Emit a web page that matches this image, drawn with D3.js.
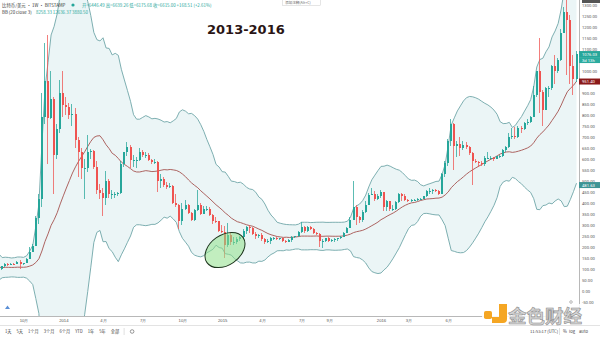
<!DOCTYPE html>
<html><head><meta charset="utf-8">
<script src="https://cdn.jsdelivr.net/npm/d3@7"></script>
<style>
html,body{margin:0;padding:0;background:#fff;overflow:hidden}
svg{display:block;font-family:"Noto Sans CJK SC","Noto Sans",sans-serif}
</style></head><body>
<svg id="c" width="600" height="337"></svg>
<script>
// ---------- DATA (weekly BTC/USD, Bitstamp) ----------
const firstWeek = "2013-03-25";
const firstOpen = 71;
const closes = [
 94,162,90,125,134,115,117,122,133,122,100,101,108,88,76,98,91,95,104,104,
 99,114,125,119,125,123,132,122,127,147,180,204,330,420,790,955,785,870,620,735,900,
 845,835,800,805,685,630,560,560,630,635,565,460,445,425,500,440,440,440,445,575,630,
 655,595,595,595,630,620,620,595,585,585,500,510,480,475,478,400,390,320,375,390,355,
 325,370,390,350,375,375,345,320,318,275,
 270,210,255,225,225,235,245,275,290,285,260,250,255,235,225,230,240,240,235,240,230,
 225,232,245,250,270,290,275,290,280,265,260,230,230,240,230,232,235,240,245,265,285,
 325,380,335,325,360,390,435,440,420,430,
 448,380,410,375,375,405,440,430,415,410,415,415,420,420,430,455,455,460,455,440,530,
 580,680,760,660,670,650,665,655,625,590,585,580,575,605,605,606,600,612,615,640,655,
 700,705,700,740,735,765,770,790,890,998,
 905,820,920,920,1020,1000,1050,1170,1268,1230,1020,965,1076
];
const highs = [
 98,165,266,145,145,148,118,124,134,135,124,112,112,110,90,100,100,98,110,108,
 110,115,127,128,128,128,136,140,128,150,200,215,340,440,900,1125,1163,1000,880,760,960,
 1000,880,855,850,830,700,650,600,708,645,640,590,485,470,545,510,460,450,450,590,630,
 675,665,620,610,650,640,630,625,600,600,590,530,520,495,490,480,440,395,400,415,395,
 360,375,460,400,385,385,380,350,335,320,
 300,295,310,270,245,245,250,280,295,300,290,270,260,262,240,238,245,248,245,242,241,
 232,235,252,252,273,315,295,295,298,285,270,265,235,240,245,235,240,242,250,270,290,
 335,500,390,340,370,410,445,470,455,440,
 460,450,415,400,390,410,445,445,440,418,420,420,425,425,432,460,470,465,465,460,535,
 590,690,780,765,680,700,680,678,660,630,600,590,590,615,630,612,610,615,620,645,660,
 720,740,745,750,750,770,780,795,930,1000,
 1150,915,925,930,1025,1070,1060,1190,1290,1330,1255,1070,1090
];
const lows = [
 70,93,68,68,118,82,106,105,120,115,98,97,98,86,66,66,88,87,95,98,
 95,98,112,115,118,120,122,100,120,127,147,177,204,305,380,760,576,780,440,600,720,
 790,800,780,750,650,520,510,420,540,600,555,440,420,340,390,425,420,425,430,440,565,
 615,560,565,560,590,610,605,590,575,575,450,470,475,465,470,395,380,280,300,370,350,
 320,320,365,345,350,365,340,305,310,270,
 265,152,200,210,210,215,230,235,260,265,255,235,240,230,215,218,215,232,232,232,225,
 220,222,225,240,245,265,265,270,278,258,255,200,198,225,225,225,225,230,235,245,265,
 285,325,300,310,315,355,390,435,410,415,
 425,365,365,365,365,368,400,410,408,405,405,408,410,415,418,428,440,440,450,435,440,
 520,570,660,550,610,615,640,645,620,480,580,565,570,570,600,600,590,600,605,610,630,
 650,690,690,695,720,730,755,765,790,880,
 810,750,820,880,915,940,990,1045,1170,980,940,890,950
];
const bbLength = 20, bbMult = 3;

const xTickDates  = ["2013-10-07","2014-01-06","2014-04-07","2014-07-07","2014-10-06","2015-01-05",
                     "2015-04-06","2015-07-06","2015-09-07","2016-01-04","2016-03-07","2016-06-06"];
const xTickLabels = ["10月","2014","4月","7月","10月","2015","4月","7月","9月","2016","3月","6月"];
const yTickValues = [-50,0,50,100,150,200,250,300,350,400,450,500,550,600,650,700,750,800,850,
                     900,950,1000,1050,1100,1150,1200,1250,1300];
const priceTagValues = [1076.03, 951.40, 481.63];
const priceTagLabels = ["1076.03", "951.40", "481.63"];
const countdownLabel = "3d 13h";

const titleText = "2013-2016";
const headerSymbol = "比特币/美元 · 1W · BITSTAMP";
const headerOHLC = "开=6446.49  高=6639.26  低=6175.68  收=6615.00  +168.51 (+2.61%)";
const headerBB = "BB (20 close 3)";
const headerBBValues = "8258.33  12636.37  3880.50";
const toolbarLeft = ["1天","5天","1个月","3个月","6个月","YTD","1年","5年","全部"];
const toolbarRight = ["11:53:17 (UTC)","%","log","auto"];

// ---------- BUILD ----------
const W = 600, H = 337, plotR = 579, plotB = 316;
const svg = d3.select("#c");
const parse = d3.utcParse("%Y-%m-%d");
const start = parse(firstWeek);
const bars = closes.map((c, i) => ({
  date: d3.utcDay.offset(start, 7 * i),
  open: i === 0 ? firstOpen : closes[i - 1],
  close: c, high: highs[i], low: lows[i]
}));

const bb = [];
for (let i = bbLength - 1; i < bars.length; i++) {
  const w = closes.slice(i - bbLength + 1, i + 1);
  const m = d3.mean(w);
  const sd = Math.sqrt(d3.mean(w, v => (v - m) * (v - m)));
  bb.push({date: bars[i].date, mid: m, up: m + bbMult * sd, lo: m - bbMult * sd});
}

const x = d3.scaleUtc().domain([parse("2016-01-04"), parse("2017-03-27")]).range([381, 576.5]);
const y = d3.scaleLinear().domain([0, 1300]).range([291.2, 4.7]);

svg.append("rect").attr("width", W).attr("height", H).attr("fill", "#fff");
svg.append("clipPath").attr("id", "clip").append("rect")
  .attr("x", 0).attr("y", 0).attr("width", plotR).attr("height", plotB);
const plot = svg.append("g").attr("clip-path", "url(#clip)");

// Bollinger bands
plot.append("path").datum(bb)
  .attr("d", d3.area().x(d => x(d.date)).y0(d => y(d.lo)).y1(d => y(d.up)))
  .attr("fill", "#ebf5f6");
["up", "lo"].forEach(k => plot.append("path").datum(bb)
  .attr("d", d3.line().x(d => x(d.date)).y(d => y(d[k])))
  .attr("fill", "none").attr("stroke", "#6fa6a8").attr("stroke-width", 0.9));
plot.append("path").datum(bb)
  .attr("d", d3.line().x(d => x(d.date)).y(d => y(d.mid)))
  .attr("fill", "none").attr("stroke", "#a5524f").attr("stroke-width", 0.9);

// Candles
const up = "#26a69a", dn = "#ef5350";
const cg = plot.append("g").attr("shape-rendering", "crispEdges");
cg.selectAll("rect.w").data(bars).join("rect").attr("class", "w")
  .attr("x", d => Math.round(x(d.date)) - 1).attr("width", 1)
  .attr("y", d => y(d.high)).attr("height", d => Math.max(1, y(d.low) - y(d.high)))
  .attr("fill", d => d.close >= d.open ? up : dn).attr("opacity", 0.75);
cg.selectAll("rect.b").data(bars).join("rect").attr("class", "b")
  .attr("x", d => Math.round(x(d.date)) - 1).attr("width", 2)
  .attr("y", d => y(Math.max(d.open, d.close)))
  .attr("height", d => Math.max(1, Math.abs(y(d.open) - y(d.close))))
  .attr("fill", d => d.close >= d.open ? up : dn);

// Highlight ellipse
svg.append("ellipse").attr("cx", 225).attr("cy", 250).attr("rx", 22).attr("ry", 15)
  .attr("transform", "rotate(-35 225 250)")
  .attr("fill", "#8fe08a").attr("fill-opacity", 0.55)
  .attr("stroke", "#1d351d").attr("stroke-width", 1);

// Title
svg.append("text").attr("x", 207).attr("y", 34).text(titleText)
  .attr("font-family", "DejaVu Sans").attr("font-weight", "bold").attr("font-size", 13)
  .attr("fill", "#2a1515");

// Header
const hdr = svg.append("g").attr("font-size", 4.4).attr("font-family", "'Noto Sans CJK SC', sans-serif");
hdr.append("text").attr("x", 2).attr("y", 6.5).attr("fill", "#333").text(headerSymbol);
hdr.append("circle").attr("cx", 73).attr("cy", 5).attr("r", 1.6).attr("fill", "#26a69a");
hdr.append("text").attr("x", 82).attr("y", 6.5).attr("fill", "#26a69a").text(headerOHLC);
hdr.append("text").attr("x", 2).attr("y", 14).attr("fill", "#333").text(headerBB);
hdr.append("text").attr("x", 36).attr("y", 14).attr("fill", "#26a69a").text(headerBBValues);
svg.append("rect").attr("x", 282.5).attr("y", -1).attr("width", 38).attr("height", 6.5)
  .attr("fill", "#fff").attr("stroke", "#ccc").attr("stroke-width", 0.5);
svg.append("text").attr("x", 285).attr("y", 3.6).attr("font-size", 3.6).attr("fill", "#666").text("添加注释(Alt+C)");

// Price axis (labels under the price tags are hidden, as in the reference)
const tagCenters = priceTagValues.map(v => y(v)).concat([y(priceTagValues[0]) + 6]);
const visibleTicks = yTickValues.filter(v => tagCenters.every(c => Math.abs(y(v) - c) >= 4));
svg.append("line").attr("x1", plotR + 0.5).attr("x2", plotR + 0.5).attr("y1", 0).attr("y2", plotB)
  .attr("stroke", "#b8b8b8").attr("stroke-width", 1);
const ya = svg.append("g").attr("transform", `translate(${plotR},0)`)
  .call(d3.axisRight(y).tickValues(visibleTicks).tickSize(0).tickPadding(3).tickFormat(d => d.toFixed(2)));
ya.select(".domain").remove();
ya.selectAll("text").attr("font-size", 4.2).attr("fill", "#555").attr("font-family", "Roboto, sans-serif");

// Time axis
svg.append("line").attr("x1", 0).attr("x2", plotR).attr("y1", plotB + 0.5).attr("y2", plotB + 0.5)
  .attr("stroke", "#b8b8b8").attr("stroke-width", 1);
const xa = svg.append("g").attr("transform", `translate(0,${plotB})`)
  .call(d3.axisBottom(x).tickValues(xTickDates.map(parse)).tickSize(0).tickPadding(3)
        .tickFormat((d, i) => xTickLabels[i]));
xa.select(".domain").remove();
xa.selectAll("text").attr("font-size", 4.2).attr("fill", "#555");

// Toolbar
svg.append("line").attr("x1", 0).attr("x2", W).attr("y1", 325.5).attr("y2", 325.5)
  .attr("stroke", "#e3e3e3").attr("stroke-width", 1);
const tb = svg.append("g").attr("font-size", 4.2).attr("fill", "#444");
let tx = 5;
toolbarLeft.forEach(t => {
  const el = tb.append("text").attr("x", tx).attr("y", 333).text(t);
  tx += el.node().getComputedTextLength() + 5;
});
tb.append("line").attr("x1", tx).attr("x2", tx).attr("y1", 328).attr("y2", 335).attr("stroke", "#ccc").attr("stroke-width", 0.6);
tb.append("circle").attr("cx", tx + 8).attr("cy", 331.5).attr("r", 1.8).attr("fill", "none").attr("stroke", "#555").attr("stroke-width", 0.6);
tb.append("text").attr("x", 530).attr("y", 333).text(toolbarRight[0]);
tb.append("line").attr("x1", 559.5).attr("x2", 559.5).attr("y1", 328).attr("y2", 335).attr("stroke", "#ccc").attr("stroke-width", 0.6);
tb.append("text").attr("x", 563).attr("y", 333).text(toolbarRight[1]);
tb.append("text").attr("x", 569).attr("y", 333).text(toolbarRight[2]);
tb.append("text").attr("x", 579).attr("y", 333).text(toolbarRight[3]);

// Small icons
svg.append("path").attr("d", "M5,309 L7.5,305.5 L10,309 Z M6,309.5 h3").attr("fill", "#5b8fd6");
svg.append("circle").attr("cx", 571).attr("cy", 302).attr("r", 1.3).attr("fill", "none").attr("stroke", "#777").attr("stroke-width", 0.5);

// Price tags
const tagColors = ["#26a69a", "#8b1a1a", "#3e9494"];
const tags = svg.append("g").attr("font-size", 4.2).attr("font-family", "Roboto, sans-serif");
priceTagValues.forEach((v, i) => {
  const cy = y(v);
  tags.append("rect").attr("x", plotR).attr("y", cy - 3).attr("width", W - plotR).attr("height", 6)
    .attr("fill", tagColors[i]);
  tags.append("text").attr("x", plotR + 3).attr("y", cy + 1.5).attr("fill", "#fff").text(priceTagLabels[i]);
  if (i === 0) {
    tags.append("rect").attr("x", plotR).attr("y", cy + 3).attr("width", W - plotR).attr("height", 6)
      .attr("fill", "#2bab9f");
    tags.append("text").attr("x", plotR + 3).attr("y", cy + 7.5).attr("fill", "#fff").text(countdownLabel);
  }
});
svg.append("rect").attr("x", 582).attr("y", 0).attr("width", 18).attr("height", 3).attr("fill", "#555");

// Watermark
const wm = svg.append("g");
wm.append("rect").attr("x", 482).attr("y", 304).attr("width", 100).attr("height", 21).attr("fill", "#fff").attr("opacity", 0.85);
wm.append("rect").attr("x", 484).attr("y", 311).attr("width", 8).attr("height", 8).attr("rx", 1.8).attr("fill", "#f5a623");
wm.append("path").attr("d", "M499,304 h8 v15 q0,4 -4,4 h-11 v-6 h7 z").attr("fill", "#f5a623");
wm.append("text").attr("x", 508).attr("y", 322.5).text("金色财经")
  .attr("font-size", 18.5).attr("font-weight", 700).attr("font-family", "'Noto Sans CJK SC'")
  .attr("fill", "#d4d4d4").attr("stroke", "#8c8c8c").attr("stroke-width", 0.6);
</script>
</body></html>
